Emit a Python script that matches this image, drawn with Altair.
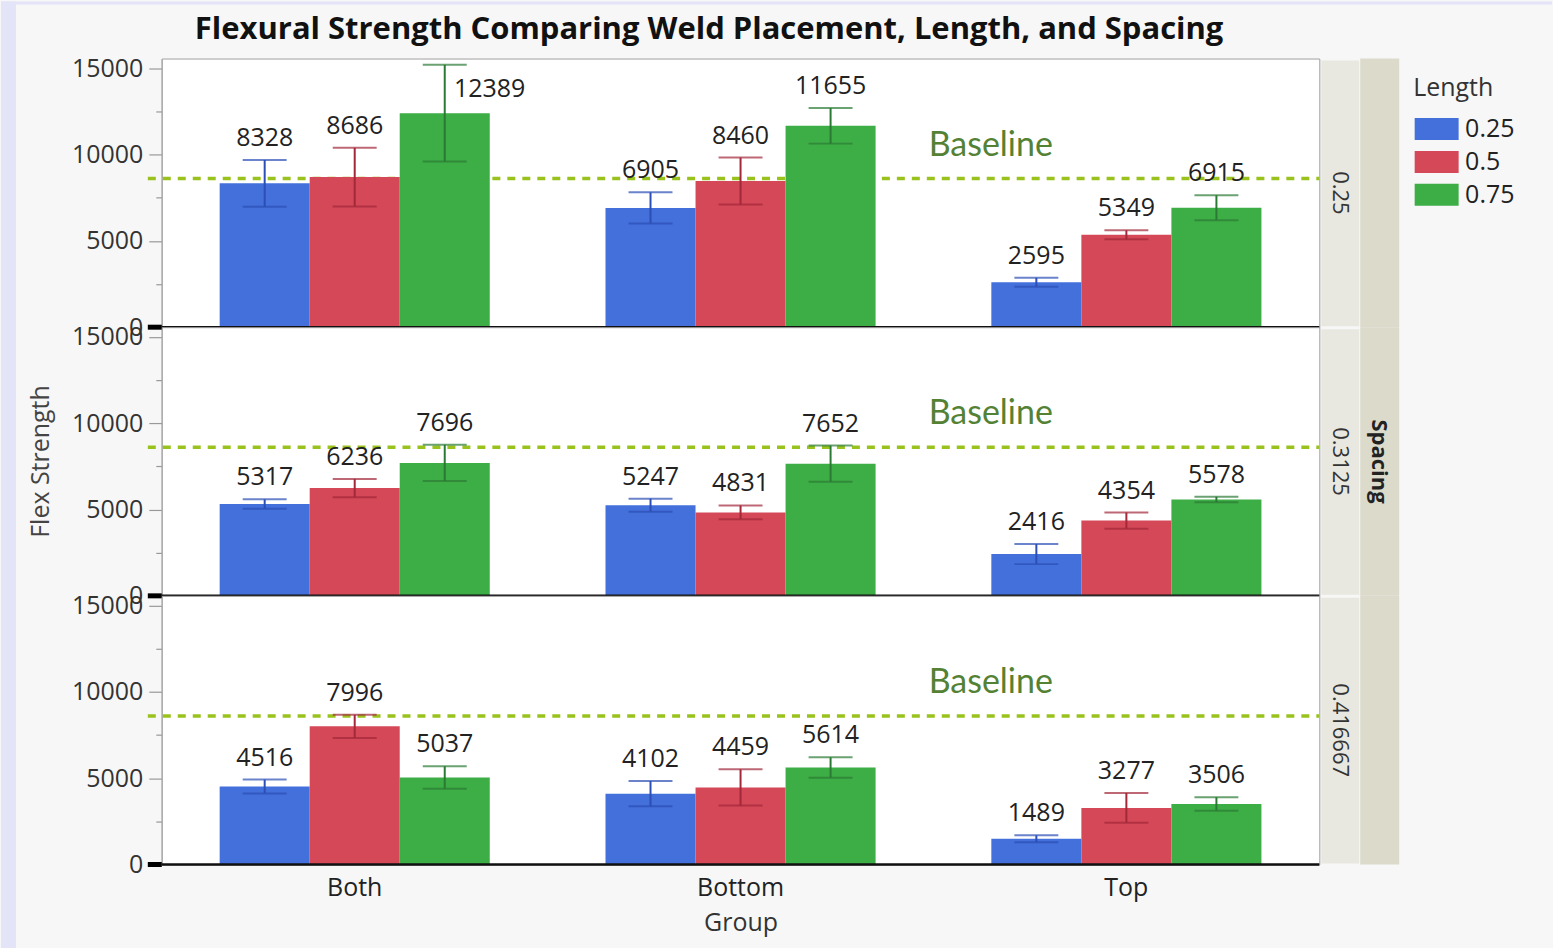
import altair as alt
import pandas as pd

# ---------------- data ----------------
groups = ["Both", "Bottom", "Top"]
lengths = ["0.25", "0.5", "0.75"]
spacings = ["0.25", "0.3125", "0.416667"]

# mean flex strength, per spacing: rows = group, cols = length
means_sp025 = [[8328, 8686, 12389], [6905, 8460, 11655], [2595, 5349, 6915]]
means_sp03125 = [[5317, 6236, 7696], [5247, 4831, 7652], [2416, 4354, 5578]]
means_sp0417 = [[4516, 7996, 5037], [4102, 4459, 5614], [1489, 3277, 3506]]

# error bar half widths
err_sp025 = [[1350, 1700, 2800], [900, 1360, 1030], [260, 260, 720]]
err_sp03125 = [[270, 530, 1050], [380, 400, 1050], [580, 470, 160]]
err_sp0417 = [[400, 670, 650], [730, 1050, 590], [200, 860, 390]]

baseline_value = 8600

all_means = [means_sp025, means_sp03125, means_sp0417]
all_errs = [err_sp025, err_sp03125, err_sp0417]

rows = []
for si, sp in enumerate(spacings):
    for gi, g in enumerate(groups):
        for li, ln in enumerate(lengths):
            m = all_means[si][gi][li]
            e = all_errs[si][gi][li]
            rows.append(dict(Spacing=sp, Group=g, Length=ln, Mean=m,
                             Lower=m - e, Upper=m + e, Label=str(m)))
df = pd.DataFrame(rows)

# ---------------- styling ----------------
W, H = 1159, 269
FONT = "Open Sans"
bar_colors = ["#4370DB", "#D44858", "#3DAD46"]
err_colors = ["#2B4FB5", "#A3283A", "#2B7A34"]

base = alt.Chart()

one_per_cell = "datum.Group == 'Both' && datum.Length == '0.25'"
top_cell = one_per_cell + " && datum.Spacing == '0.25'"
mid_cell = one_per_cell + " && datum.Spacing == '0.3125'"

yscale = alt.Scale(domain=[0, 15550], nice=False)
yaxis = alt.Axis(
    title=None,
    values=[0, 2500, 5000, 7500, 10000, 12500, 15000],
    labelExpr="datum.value % 5000 === 0 ? datum.value : ''",
    labelFont=FONT, labelFontSize=25, labelColor="#333333",
    labelPadding=6,
    tickSize={"condition": {"test": "datum.value % 5000 === 0", "value": 13}, "value": 6},
    tickColor="#999999", tickWidth=1.2,
    domainColor="#a0a0a0", domainWidth=1.5, grid=False,
)
xaxis = alt.Axis(
    title="Group", labelAngle=0, labelFont=FONT, labelFontSize=25,
    labelColor="#222222", labelPadding=11, ticks=False, domain=False,
    titleFont=FONT, titleFontSize=25, titleFontWeight="normal",
    titleColor="#333333", titlePadding=10,
)
xenc = alt.X("Group:N", sort=groups,
             scale=alt.Scale(paddingInner=0.3, paddingOuter=0.15), axis=xaxis)
xplain = alt.X("Group:N", sort=groups)
xoff = alt.XOffset("Length:N", sort=lengths,
                   scale=alt.Scale(paddingInner=0, paddingOuter=0))

# page frame (lavender edge)
frame_left = base.transform_filter(top_cell).mark_rect(color="#E4E4F8").encode(
    x=alt.value(-161), x2=alt.value(-146), y=alt.value(-57), y2=alt.value(891))
frame_top = base.transform_filter(top_cell).mark_rect(color="#E4E4F8").encode(
    x=alt.value(-161), x2=alt.value(1392), y=alt.value(-57), y2=alt.value(-54))

# strips
strip_light = base.transform_filter(one_per_cell).mark_rect(color="#E8E8E1").encode(
    x=alt.value(W + 2), x2=alt.value(W + 40), y=alt.value(2), y2=alt.value(H - 1))
strip_dark = base.transform_filter(one_per_cell).mark_rect(color="#DBDACB").encode(
    x=alt.value(W + 41), x2=alt.value(W + 80), y=alt.value(0), y2=alt.value(H))
strip_text = base.transform_filter(one_per_cell).mark_text(
    font=FONT, fontSize=22, color="#333333", angle=90, align="center",
    baseline="middle").encode(
    x=alt.value(W + 21), y=alt.value(H / 2), text=alt.Text("Spacing:N"))
spacing_text = base.transform_filter(mid_cell).mark_text(
    font=FONT, fontSize=22, fontWeight="bold", color="#222222", angle=90,
    align="center", baseline="middle").encode(
    x=alt.value(W + 60), y=alt.value(H / 2), text=alt.value("Spacing"))

# titles drawn as text
title_text = base.transform_filter(top_cell).mark_text(
    font=FONT, fontSize=31, fontWeight="bold", color="#111111",
    align="center", baseline="middle").encode(
    x=alt.value(548), y=alt.value(-29),
    text=alt.value("Flexural Strength Comparing Weld Placement, Length, and Spacing"))
ytitle_text = base.transform_filter(mid_cell).mark_text(
    font=FONT, fontSize=25, color="#444444", angle=270,
    align="center", baseline="middle").encode(
    x=alt.value(-121), y=alt.value(H / 2), text=alt.value("Flex Strength"))

# baseline reference
baseline_rule = base.transform_filter(one_per_cell).mark_rule(
    color="#99C31C", strokeWidth=3.5, strokeDash=[8, 7]).encode(
    y=alt.datum(baseline_value), x=alt.value(-14), x2=alt.value(W))
baseline_text = base.transform_filter(one_per_cell).mark_text(
    font="Lato", fontSize=34, color="#548235", align="center",
    baseline="middle", dy=-33).encode(
    y=alt.datum(baseline_value), x=alt.value(830), text=alt.value("Baseline"))

bars = base.mark_bar(opacity=1).encode(
    x=xenc, xOffset=xoff,
    y=alt.Y("Mean:Q", scale=yscale, axis=yaxis),
    color=alt.Color("Length:N", sort=lengths,
                    scale=alt.Scale(domain=lengths, range=bar_colors),
                    legend=alt.Legend(
                        orient="none", legendX=1253, legendY=18,
                        title="Length", titleFont=FONT, titleFontSize=25,
                        titleFontWeight="normal", titleColor="#333333",
                        titlePadding=15,
                        labelFont=FONT, labelFontSize=25, labelColor="#222222",
                        symbolType="M-1,-1H3V1H-1Z", symbolSize=484,
                        symbolStrokeWidth=0, symbolOpacity=1,
                        rowPadding=7, labelOffset=27, padding=0)),
)

zero_line = base.transform_filter(one_per_cell).mark_rule(
    color="#111111", strokeWidth=2.5).encode(
    y=alt.datum(0), x=alt.value(0), x2=alt.value(W))
zero_block = base.transform_filter(one_per_cell).mark_rule(
    color="#000000", strokeWidth=5).encode(
    y=alt.datum(0), x=alt.value(-14), x2=alt.value(0))

err_rule = base.mark_rule(strokeWidth=2).encode(
    x=xplain, xOffset=xoff,
    y=alt.Y("Lower:Q"), y2="Upper:Q",
    stroke=alt.Stroke("Length:N", sort=lengths,
                      scale=alt.Scale(domain=lengths, range=err_colors), legend=None))
cap_hi = base.mark_tick(orient="horizontal", size=44, thickness=2).encode(
    x=xplain, xOffset=xoff, y=alt.Y("Upper:Q"),
    fill=alt.Fill("Length:N", sort=lengths,
                  scale=alt.Scale(domain=lengths, range=err_colors), legend=None))
cap_lo = base.mark_tick(orient="horizontal", size=44, thickness=2).encode(
    x=xplain, xOffset=xoff, y=alt.Y("Lower:Q"),
    fill=alt.Fill("Length:N", sort=lengths,
                  scale=alt.Scale(domain=lengths, range=err_colors), legend=None))

# value labels: above the upper cap, or beside the bar when the cap reaches the top
labels = base.transform_filter("datum.Upper <= 14500").mark_text(
    font=FONT, fontSize=25, color="#222222",
    baseline="alphabetic", align="center", dy=-14).encode(
    x=xplain, xOffset=xoff, y=alt.Y("Upper:Q"), text=alt.Text("Label:N"))
labels_side = base.transform_filter("datum.Upper > 14500").mark_text(
    font=FONT, fontSize=25, color="#222222",
    baseline="alphabetic", align="center", dy=-16, dx=45).encode(
    x=xplain, xOffset=xoff, y=alt.Y("Mean:Q"), text=alt.Text("Label:N"))

layered = alt.layer(
    frame_left, frame_top, strip_light, strip_dark,
    baseline_rule, bars, zero_line, zero_block,
    err_rule, cap_hi, cap_lo, labels, labels_side, baseline_text,
    strip_text, spacing_text, title_text, ytitle_text,
    data=df,
).properties(width=W, height=H)

chart = layered.facet(
    row=alt.Row("Spacing:N", sort=spacings, header=None),
    spacing=0,
).properties(
    bounds="flush", padding=0,
).configure(
    background="#F7F7F7",
).configure_view(
    fill="white", stroke="#a0a0a0", strokeWidth=1,
)

chart.save("out.html", embed_options={"renderer": "svg", "actions": False})
